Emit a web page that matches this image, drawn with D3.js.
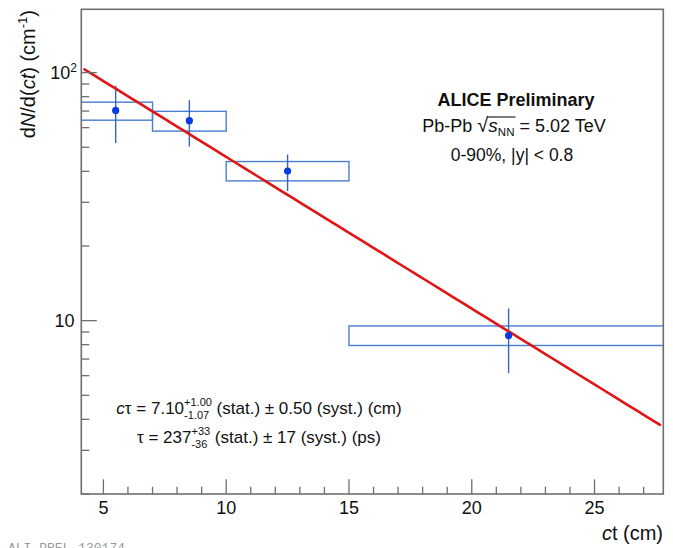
<!DOCTYPE html>
<html><head><meta charset="utf-8">
<script src="https://cdn.jsdelivr.net/npm/d3@7"></script>
<style>
html,body{margin:0;padding:0;background:#fff;}
svg{display:block;font-family:"Liberation Sans",Arial,Helvetica,sans-serif;}
svg text{white-space:pre;}
</style></head>
<body><svg id="c" width="673" height="548"></svg>
<script>
// ---- data ----
const binLo    = [4, 7, 10, 15];
const binHi    = [7, 10, 15, 28];
const ctCenter = [5.5, 8.5, 12.5, 21.5];
const yields   = [70.4, 64.0, 40.1, 8.71];
const statLo   = [52.0, 50.4, 33.3, 6.14];
const statHi   = [88.6, 77.4, 46.8, 11.2];
const systLo   = [64.3, 58.1, 36.6, 7.94];
const systHi   = [76.0, 69.8, 43.8, 9.52];
const fitN0 = 187;
const fitCtau = 7.10;
const fitRange = [4.19, 27.7];
const xTicks = [5, 10, 15, 20, 25];
const xDomain = [4.1, 27.8];
const yDomain = [2, 180];

const W = 673, H = 548;
const m = {l: 81.3, t: 9.3, r: 9.7, b: 54};
const svg = d3.select('#c');
const x = d3.scaleLinear().domain(xDomain).range([m.l, W - m.r]);
const y = d3.scaleLog().domain(yDomain).range([H - m.b, m.t]);

svg.append('defs').append('clipPath').attr('id', 'pc')
  .append('rect').attr('x', m.l).attr('y', m.t).attr('width', W - m.l - m.r).attr('height', H - m.t - m.b);
const plot = svg.append('g').attr('clip-path', 'url(#pc)');

const idx = d3.range(yields.length);
// systematic boxes
plot.selectAll('rect.syst').data(idx).join('rect').attr('class', 'syst')
  .attr('x', i => x(binLo[i])).attr('width', i => x(binHi[i]) - x(binLo[i]))
  .attr('y', i => y(systHi[i])).attr('height', i => y(systLo[i]) - y(systHi[i]))
  .attr('fill', 'none').attr('stroke', '#4a7cd0').attr('stroke-width', 1.4);
// stat error bars
plot.selectAll('line.stat').data(idx).join('line').attr('class', 'stat')
  .attr('x1', i => x(ctCenter[i])).attr('x2', i => x(ctCenter[i]))
  .attr('y1', i => y(statLo[i])).attr('y2', i => y(statHi[i]))
  .attr('stroke', '#3563c6').attr('stroke-width', 1.4);
// fit line
const fx = d3.range(0, 51).map(k => fitRange[0] + (fitRange[1] - fitRange[0]) * k / 50);
plot.append('path').datum(fx)
  .attr('d', d3.line().x(v => x(v)).y(v => y(fitN0 * Math.exp(-v / fitCtau))))
  .attr('fill', 'none').attr('stroke', '#e01515').attr('stroke-width', 2.6);
// points
plot.selectAll('circle.pt').data(idx).join('circle').attr('class', 'pt')
  .attr('cx', i => x(ctCenter[i])).attr('cy', i => y(yields[i])).attr('r', 3.6)
  .attr('fill', '#0b3be0');

// ---- axes ----
const axisColor = '#6e6e6e';
const ax = svg.append('g');
ax.append('rect').attr('x', m.l).attr('y', m.t).attr('width', W - m.l - m.r).attr('height', H - m.t - m.b)
  .attr('fill', 'none').attr('stroke', axisColor).attr('stroke-width', 1.6);
// x ticks
const xMinor = d3.range(5, 28, 1);
ax.selectAll('line.xt').data(xMinor).join('line')
  .attr('x1', d => x(d)).attr('x2', d => x(d))
  .attr('y1', H - m.b).attr('y2', d => H - m.b - (d % 5 === 0 ? 14.7 : 7.3))
  .attr('stroke', axisColor).attr('stroke-width', 1.3);
ax.selectAll('text.xl').data(xTicks).join('text')
  .attr('x', d => x(d)).attr('y', 513.5).attr('text-anchor', 'middle')
  .attr('font-size', 18).attr('fill', '#111').text(d => d);
// y ticks
const yMinor = [];
[1, 10, 100].forEach(dec => { for (let k = 1; k <= 9; k++) { const v = dec * k; if (v >= yDomain[0] && v <= yDomain[1]) yMinor.push(v); } });
ax.selectAll('line.yt').data(yMinor).join('line')
  .attr('y1', d => y(d)).attr('y2', d => y(d))
  .attr('x1', m.l).attr('x2', d => m.l + ((d === 10 || d === 100) ? 15.5 : 8))
  .attr('stroke', axisColor).attr('stroke-width', 1.3);
ax.append('text').attr('x', 74.5).attr('y', y(10) + 6.5).attr('text-anchor', 'end')
  .attr('font-size', 18).attr('fill', '#111').text('10');
const y100 = ax.append('text').attr('x', 77).attr('y', y(100) + 6.5).attr('text-anchor', 'end')
  .attr('font-size', 18).attr('fill', '#111');
y100.append('tspan').text('10');
y100.append('tspan').attr('font-size', 12).attr('dy', -7).text('2');

// y title
const yt = svg.append('text').attr('transform', 'translate(35,10) rotate(-90)')
  .attr('text-anchor', 'end').attr('font-size', 20).attr('fill', '#111');
yt.append('tspan').text('d');
yt.append('tspan').attr('font-style', 'italic').text('N');
yt.append('tspan').text('/d(');
yt.append('tspan').attr('font-style', 'italic').text('ct');
yt.append('tspan').text(') (cm');
yt.append('tspan').attr('font-size', 13).attr('dy', -8).text('-1');
yt.append('tspan').attr('dy', 8).text(')');

// x title
const xt = svg.append('text').attr('x', 663).attr('y', 540).attr('text-anchor', 'end')
  .attr('font-size', 20).attr('fill', '#111');
xt.append('tspan').attr('font-style', 'italic').text('c');
xt.append('tspan').text('t (cm)');

// rich text helper
function rich(x0, y0, segs, base, anchor) {
  const g = svg.append('g');
  let cx = 0, prevStart = 0, prevW = 0;
  const marks = {};
  segs.forEach(s => {
    if (s.mark) { marks[s.mark] = cx; return; }
    const t = g.append('text').attr('font-size', s.size || base).attr('fill', '#111')
      .attr('font-style', s.italic ? 'italic' : null).attr('font-weight', s.bold ? 'bold' : null).text(s.t);
    const w = t.node().getComputedTextLength();
    let sx;
    if (s.stack) { sx = prevStart; cx = prevStart + Math.max(prevW, w); }
    else { cx += (s.gap || 0); sx = cx; prevStart = cx; prevW = w; cx += w; }
    t.attr('x', sx).attr('y', s.dy || 0);
  });
  const shift = anchor === 'middle' ? -cx / 2 : anchor === 'end' ? -cx : 0;
  g.attr('transform', `translate(${x0 + shift},${y0})`);
  return {g, marks};
}

rich(516, 106, [{t: 'ALICE Preliminary', bold: true}], 18, 'middle');
const l2 = rich(514, 132, [
  {t: 'Pb-Pb '}, {t: '√', size: 20}, {mark: 'a'}, {t: 's', italic: true, size: 19},
  {t: 'NN', size: 11.5, dy: 4}, {mark: 'b'}, {t: ' = 5.02 TeV'}], 18, 'middle');
l2.g.append('line').attr('x1', l2.marks.a - 1).attr('x2', l2.marks.b + 1)
  .attr('y1', -15).attr('y2', -15).attr('stroke', '#111').attr('stroke-width', 1.1);
rich(512, 161, [{t: '0-90%, |y| < 0.8'}], 17.5, 'middle');

rich(259, 414, [
  {t: 'c', italic: true}, {t: 'τ = 7.10'},
  {t: '+1.00', size: 11, dy: -8}, {t: '-1.07', size: 11, dy: 5, stack: true},
  {t: ' (stat.) ± 0.50 (syst.) (cm)'}], 17, 'middle');
rich(259, 443, [
  {t: 'τ = 237'},
  {t: '+33', size: 11, dy: -8}, {t: '-36', size: 11, dy: 5, stack: true},
  {t: ' (stat.) ± 17 (syst.) (ps)'}], 17, 'middle');

svg.append('text').attr('x', 8).attr('y', 552).attr('font-size', 13)
  .attr('font-family', '"Liberation Mono","DejaVu Sans Mono",monospace')
  .attr('fill', '#9a9a9a').text('ALI-PREL-130174');
</script></body></html>
